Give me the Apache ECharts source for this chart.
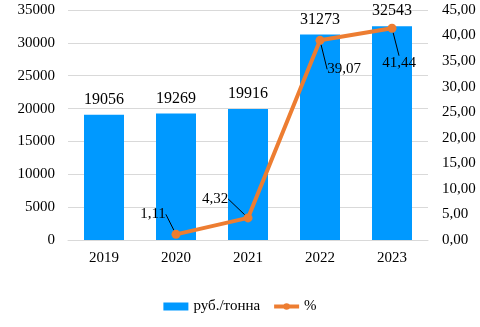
<!DOCTYPE html>
<html><head><meta charset="utf-8">
<script src="https://cdn.jsdelivr.net/npm/echarts@6/dist/echarts.min.js"></script>
<style>html,body{margin:0;padding:0;background:#fff}#c{width:480px;height:327px}</style>
</head><body><div id="c"></div>
<script>
var categories = ['2019','2020','2021','2022','2023'];
var priceValues = [19056, 19269, 19916, 31273, 32543];
var pctValues = [null, 1.11, 4.32, 39.07, 41.44];
var leftTicks = [0,5000,10000,15000,20000,25000,30000,35000];
var rightTicks = ['0,00','5,00','10,00','15,00','20,00','25,00','30,00','35,00','40,00','45,00'];
var seriesNames = ['руб./тонна','%'];
var labelOffsets = [null,[-23,-20],[-33,-19],[24,29],[7,35]];

var font = '"Liberation Serif", "Times New Roman", serif';
var chart = echarts.init(document.getElementById('c'));
chart.setOption({
  animation:false,
  textStyle:{fontFamily:font},
  grid:{left:68,right:52,top:10,bottom:87},
  legend:{bottom:8,left:'center',itemWidth:25,itemHeight:8,itemGap:12,
    textStyle:{fontFamily:font,fontSize:15,color:'#000'},
    data:[{name:seriesNames[0],icon:'rect'},
          {name:seriesNames[1],lineStyle:{width:4}}]},
  xAxis:{type:'category',data:categories,
    axisLine:{lineStyle:{color:'#d9d9d9'}},axisTick:{show:false},
    axisLabel:{color:'#000',fontSize:15,fontFamily:font,margin:11}},
  yAxis:[{type:'value',min:0,max:35000,interval:5000,
    axisLabel:{color:'#000',fontSize:15,fontFamily:font,margin:13,
      formatter:function(v){return String(v);}},
    splitLine:{lineStyle:{color:'#d9d9d9'}}},
   {type:'value',min:0,max:45,interval:5,
    axisLabel:{color:'#000',fontSize:15,fontFamily:font,margin:14,
      formatter:function(v){return rightTicks[Math.round(v/5)];}},
    splitLine:{show:false}}],
  series:[{name:seriesNames[0],type:'bar',data:priceValues,barWidth:40,
      itemStyle:{color:'#0099ff'},
      label:{show:true,position:'top',distance:7,color:'#000',fontSize:16,fontFamily:font}},
    {name:seriesNames[1],type:'line',yAxisIndex:1,
      data:pctValues,
      symbol:'circle',symbolSize:9,
      lineStyle:{color:'#ed7d31',width:4},itemStyle:{color:'#ed7d31'},
      label:{show:true,position:'inside',color:'#000',fontSize:15,fontFamily:font,
        formatter:function(p){return String(p.value).replace('.',',');}},
      labelLayout:function(p){
        var o = labelOffsets[p.dataIndex] || [0,0];
        return {dx:o[0],dy:o[1]};
      },
      labelLine:{show:true,lineStyle:{color:'#000',width:1}}}]
});
</script></body></html>
